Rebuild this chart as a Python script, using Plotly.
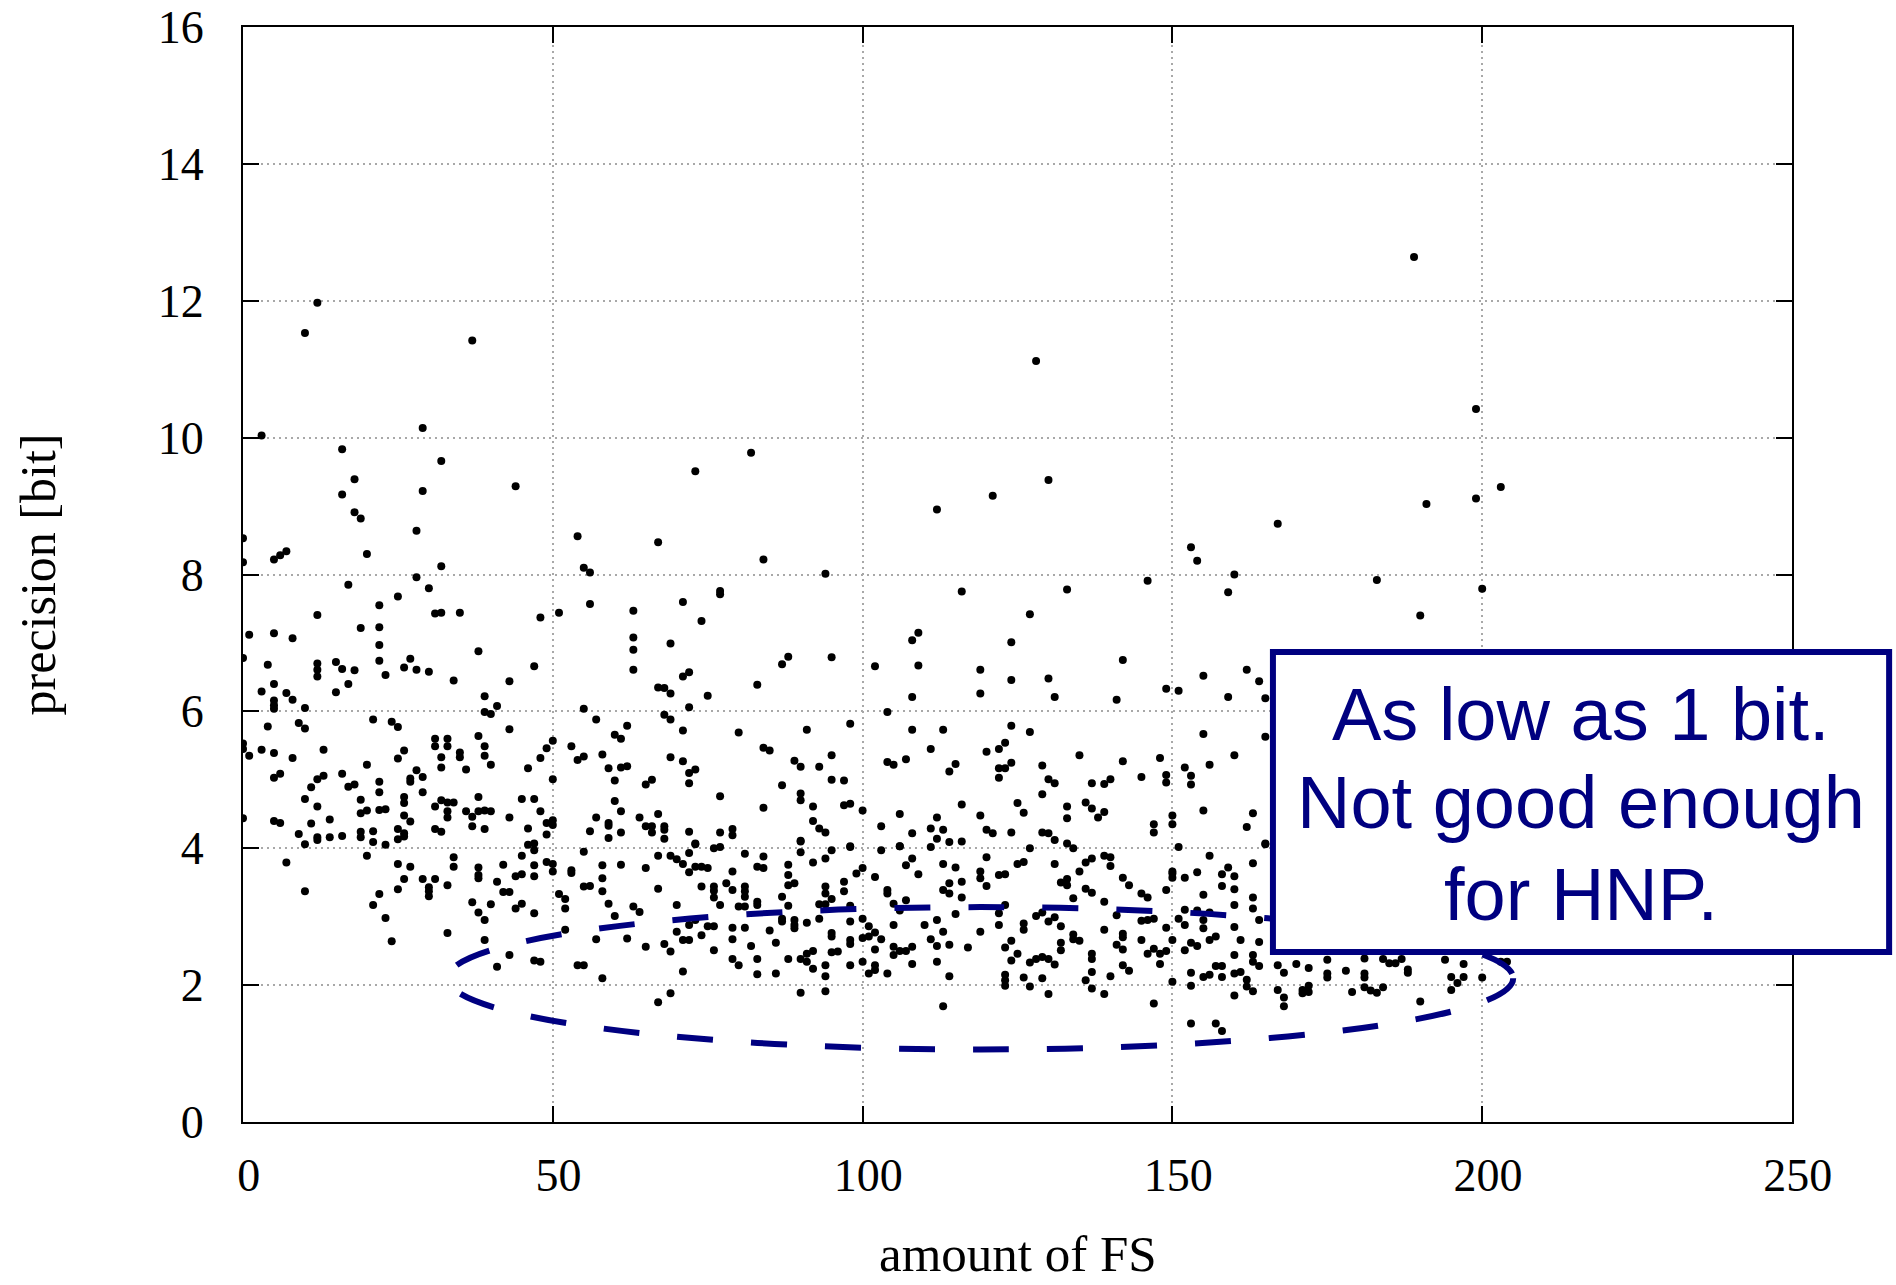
import plotly.graph_objects as go

# ---- data: (amount of FS, precision [bit]), grouped by region ----
pts_upper_left = [
    (12,11.97),(10,11.53),(37,11.42),(3,10.03),(29,10.14),(16,9.83),(32,9.66),(18,9.39),(16,9.17),(29,9.22),
    (44,9.29),(18,8.91),(19,8.82),(28,8.64),(0,8.53),(0,8.18),(5,8.22),(6,8.28),(7,8.34),(20,8.30),(32,8.12),
    (28,7.96),(17,7.85),(30,7.80),(25,7.68),(22,7.55),(22,7.23),(12,7.41),(19,7.22),(31,7.43),(32,7.44),(35,7.44),
    (54,8.56),(55,8.10),(56,8.03),(67,8.47),(73,9.51),(82,9.78),(84,8.22),(94,8.01),(63,7.47),(71,7.60),(74,7.32),
    (77,7.76),(77,7.71),(48,7.37),(51,7.44),(56,7.57),
]
pts_upper_right = [
    (189,12.64),(128,11.12),(199,10.42),(112,8.95),(121,9.15),(130,9.38),(191,9.03),(199,9.11),(203,9.28),
    (167,8.74),(153,8.40),(154,8.20),(160,8.00),(159,7.74),(146,7.91),(116,7.75),(133,7.78),(183,7.92),
    (200,7.79),(127,7.42),(190,7.40),
]
pts_mid_0_40 = [
    (1,7.12),(5,7.14),(8,7.07),(22,6.97),(0,6.78),(4,6.68),(12,6.70),(12,6.61),(12,6.51),(15,6.72),(16,6.62),
    (18,6.60),(22,6.74),(23,6.53),(26,6.64),(27,6.77),(28,6.61),(30,6.58),(34,6.45),(38,6.88),(5,6.40),(3,6.29),
    (7,6.27),(8,6.17),(5,6.16),(5,6.09),(5,6.04),(10,6.05),(15,6.28),(17,6.40),(39,6.22),(39,5.99),(40,5.96),
    (41,6.08),(4,5.78),(9,5.83),(10,5.75),(21,5.88),(24,5.85),(25,5.77),(31,5.60),(31,5.49),(33,5.60),(33,5.49),
    (38,5.64),(39,5.49),(39,5.35),(40,5.22),(35,5.40),(35,5.33),(36,5.15),(32,5.33),(32,5.18),(0,5.53),(0,5.45),
    (1,5.35),(3,5.44),(5,5.39),(8,5.32),(13,5.44),(20,5.22),(25,5.31),(26,5.43),(5,5.03),(6,5.09),(11,4.89),
    (12,5.01),(13,5.06),(16,5.09),(17,4.90),(18,4.93),(22,4.97),(22,4.82),(27,5.02),(27,4.97),(28,5.14),
    (29,5.04),(29,4.82),(10,4.72),(12,4.61),(19,4.71),(19,4.51),(20,4.55),(22,4.56),(23,4.57),(26,4.75),
    (26,4.66),(26,4.48),(27,4.39),(31,4.61),(32,4.70),(33,4.67),(34,4.67),(33,4.54),(33,4.45),(36,4.54),
    (37,4.46),(38,4.75),(38,4.54),(39,4.55),(40,4.54),(0,4.44),(5,4.40),(6,4.37),(11,4.36),(14,4.42),(9,4.21),
    (10,4.06),(12,4.16),(12,4.12),(14,4.16),(16,4.18),(19,4.24),(19,4.16),(21,4.25),(21,4.09),(23,4.05),
    (25,4.28),(25,4.13),(26,4.22),(26,4.17),(31,4.28),(32,4.24),(37,4.32),(39,4.28),
]
pts_mid_40_83 = [
    (63,7.08),(63,6.90),(63,6.61),(69,6.99),(47,6.66),(43,6.44),(71,6.51),(72,6.57),(83,6.39),(67,6.35),
    (68,6.34),(69,6.26),(75,6.23),(55,6.04),(72,6.06),(57,5.88),(68,5.95),(69,5.88),(62,5.79),(43,5.74),
    (71,5.72),(80,5.69),(60,5.66),(61,5.60),(50,5.57),(49,5.46),(48,5.32),(53,5.49),(54,5.29),(55,5.34),
    (58,5.37),(46,5.17),(59,5.17),(61,5.18),(62,5.20),(60,4.99),(50,5.01),(65,4.93),(66,5.00),(69,5.33),
    (71,5.27),(72,5.10),(73,5.15),(72,4.95),(45,4.72),(47,4.72),(48,4.54),(43,4.45),(46,4.29),(49,4.37),
    (50,4.41),(50,4.34),(49,4.20),(60,4.69),(61,4.54),(57,4.45),(59,4.37),(59,4.33),(56,4.25),(59,4.15),
    (61,4.23),(64,4.45),(65,4.32),(66,4.32),(66,4.23),(67,4.50),(68,4.32),(68,4.27),(68,4.14),(72,4.24),
    (73,4.07),(77,4.76),(77,4.23),(79,4.28),(79,4.19),(46,4.05),(47,4.07),(76,4.00),(77,4.02),
]
pts_mid_83_125 = [
    (108,7.04),(109,7.15),(124,7.01),(87,6.69),(88,6.80),(95,6.79),(102,6.66),(109,6.67),(119,6.61),(124,6.46),
    (108,6.21),(119,6.26),(104,5.99),(98,5.82),(91,5.73),(108,5.73),(113,5.73),(124,5.79),(84,5.47),(85,5.43),
    (111,5.45),(120,5.41),(122,5.45),(123,5.54),(89,5.28),(90,5.19),(95,5.36),(93,5.19),(104,5.26),(105,5.22),
    (107,5.30),(114,5.12),(115,5.23),(122,5.17),(123,5.17),(124,5.25),(122,5.03),(95,5.00),(97,4.99),(87,4.92),
    (90,4.80),(90,4.70),(84,4.59),(92,4.61),(97,4.63),(98,4.65),(100,4.55),(106,4.50),(116,4.64),(125,4.66),
    (92,4.40),(93,4.29),(94,4.23),(90,4.11),(98,4.03),(103,4.32),(108,4.22),(111,4.29),(112,4.45),(113,4.27),
    (112,4.14),(114,4.09),(116,4.10),(119,4.48),(120,4.27),(121,4.22),(124,4.23),(106,4.03),
]
pts_mid_125_165 = [
    (142,6.75),(130,6.48),(131,6.21),(141,6.17),(149,6.33),(151,6.30),(155,6.52),(162,6.61),(164,6.44),
    (159,6.21),(165,6.19),(127,5.70),(155,5.67),(165,5.63),(135,5.36),(142,5.27),(148,5.32),(160,5.36),
    (156,5.22),(129,5.21),(130,5.01),(131,4.95),(137,4.95),(139,4.94),(140,5.01),(145,5.04),(149,5.07),
    (149,4.96),(152,5.18),(153,4.93),(153,5.06),(129,4.79),(126,4.52),(133,4.61),(133,4.44),(136,4.67),
    (137,4.58),(138,4.45),(139,4.53),(147,4.35),(147,4.23),(150,4.48),(150,4.35),(155,4.55),(163,4.51),
    (162,4.31),(129,4.23),(130,4.22),(131,4.12),(133,4.07),(134,4.00),(127,4.00),(151,4.02),(165,4.07),
]
pts_low_0_40 = [
    (7,3.79),(10,3.37),(20,3.89),(25,3.77),(27,3.73),(26,3.55),(25,3.40),(22,3.33),(21,3.17),(23,2.98),
    (24,2.64),(29,3.55),(31,3.55),(30,3.43),(30,3.37),(30,3.30),(33,3.46),(34,3.87),(34,3.73),(38,3.72),
    (38,3.61),(38,3.56),(37,3.21),(38,3.06),(39,2.95),(40,3.18),(33,2.76),(39,2.66),
]
pts_low_40_83 = [
    (47,3.97),(55,3.95),(45,3.89),(42,3.76),(47,3.75),(47,3.59),(49,3.80),(50,3.77),(50,3.66),(53,3.68),
    (53,3.64),(41,3.51),(44,3.59),(45,3.62),(42,3.36),(43,3.36),(44,3.12),(45,3.19),(47,3.05),(51,3.33),
    (52,3.26),(52,3.12),(52,2.81),(55,3.44),(56,3.45),(58,3.75),(58,3.56),(58,3.37),(59,3.19),(60,3.01),
    (61,3.76),(63,3.15),(64,3.07),(65,3.71),(67,3.89),(69,3.89),(70,3.84),(71,3.77),(72,3.93),(73,4.06),
    (81,3.92),(72,3.65),(73,3.73),(74,3.73),(75,3.71),(79,3.66),(67,3.41),(70,3.17),(74,3.44),(76,3.44),
    (76,3.38),(76,3.28),(77,3.17),(78,3.49),(79,3.39),(81,3.44),(81,3.37),(81,3.29),(83,3.73),(80,3.15),
    (81,3.15),(72,2.88),(73,2.95),(75,2.86),(76,2.86),(79,2.84),(81,2.84),(70,2.78),(74,2.73),(79,2.67),
    (57,2.67),(62,2.68),(65,2.56),(68,2.60),(69,2.49),(71,2.66),(72,2.66),(76,2.51),(82,2.57),(43,2.44),
    (41,2.27),(47,2.36),(48,2.34),(54,2.29),(55,2.29),(58,2.10),(71,2.20),(79,2.38),(80,2.29),(83,2.38),
    (83,2.16),(69,1.88),(67,1.75),
]
pts_low_83_125 = [
    (90,4.10),(90,3.94),(95,3.97),(94,3.85),(98,4.02),(103,3.97),(106,4.03),(111,4.02),(84,3.88),(84,3.71),
    (92,3.79),(88,3.76),(88,3.61),(88,3.46),(89,3.49),(87,3.29),(88,3.16),(83,3.22),(83,3.17),(94,3.44),
    (94,3.34),(95,3.26),(94,3.18),(93,3.18),(97,3.51),(97,3.37),(98,3.16),(99,3.63),(100,3.71),(102,3.58),
    (104,3.39),(104,3.34),(105,3.19),(107,3.24),(106,3.09),(107,3.75),(108,3.85),(109,3.62),(113,3.77),
    (115,3.72),(114,3.49),(113,3.39),(114,3.34),(116,3.51),(116,3.28),(115,3.04),(120,3.87),(119,3.66),
    (119,3.56),(120,3.45),(122,3.61),(123,3.62),(125,3.77),(122,3.05),(123,3.17),(87,2.97),(87,2.93),
    (89,2.95),(89,2.88),(89,2.83),(85,2.80),(86,2.62),(91,2.91),(93,2.97),(95,2.76),(95,2.71),(98,2.93),
    (98,2.66),(98,2.60),(100,2.97),(101,2.86),(100,2.69),(101,2.71),(102,2.77),(103,2.67),(102,2.52),
    (105,2.88),(110,2.88),(112,2.95),(113,2.78),(111,2.67),(112,2.57),(114,2.59),(119,2.78),(122,2.88),
    (124,2.65),(123,2.55),(125,2.46),(124,2.36),(117,2.55),(86,2.17),(88,2.38),(90,2.38),(91,2.46),
    (92,2.50),(91,2.34),(92,2.24),(94,2.29),(94,2.13),(95,2.48),(96,2.49),(98,2.29),(100,2.34),(101,2.17),
    (102,2.29),(102,2.22),(104,2.17),(105,2.56),(105,2.44),(106,2.50),(107,2.50),(108,2.56),(108,2.31),
    (112,2.34),(114,2.13),(123,2.15),(123,2.07),(123,1.99),(90,1.89),(94,1.91),(113,1.69),
]
pts_low_125_165 = [
    (126,3.80),(131,3.77),(135,3.66),(136,3.79),(137,3.85),(139,3.89),(140,3.87),(140,3.74),(132,3.50),
    (133,3.55),(133,3.46),(136,3.41),(137,3.35),(134,3.27),(139,3.22),(142,3.57),(143,3.46),(145,3.34),
    (146,3.28),(149,3.39),(150,3.63),(150,3.66),(150,3.57),(152,3.57),(154,3.65),(155,3.32),(156,3.89),
    (158,3.62),(159,3.72),(160,3.59),(158,3.45),(160,3.40),(160,3.17),(163,3.78),(163,3.28),(163,3.12),
    (165,4.06),(126,2.90),(126,2.81),(128,3.01),(129,3.06),(130,2.93),(131,2.99),(132,2.86),(127,2.33),
    (128,2.38),(129,2.41),(130,2.38),(131,2.30),(132,2.62),(132,2.51),(134,2.74),(134,2.67),(135,2.65),
    (137,2.46),(137,2.38),(137,2.19),(136,2.07),(137,1.95),(139,2.81),(141,3.02),(141,2.59),(142,2.52),
    (142,2.75),(142,2.70),(142,2.29),(143,2.21),(140,2.13),(139,1.87),(145,2.94),(146,2.95),(147,2.97),
    (149,2.84),(145,2.66),(146,2.46),(147,2.53),(148,2.46),(149,2.50),(148,2.31),(150,2.66),(151,2.97),
    (152,2.88),(152,3.10),(154,3.09),(155,2.95),(155,2.83),(156,3.06),(150,2.05),(147,1.73),(126,2.11),
    (127,1.98),(129,2.10),(130,1.87),(152,2.51),(153,2.62),(154,2.57),(156,2.66),(157,2.71),(157,2.28),
    (158,2.28),(158,2.12),(155,2.12),(156,2.15),(153,2.18),(153,1.99),(160,2.85),(161,2.66),(160,2.44),
    (160,2.17),(161,2.19),(162,2.08),(162,1.98),(163,1.91),(160,1.85),(163,2.44),(163,2.34),(164,2.28),
    (164,2.95),(164,2.63),(153,1.44),(157,1.44),(158,1.33),
]
pts_low_165_205 = [
    (167,2.29),(168,2.18),(170,2.31),(172,2.25),(175,2.37),(175,2.17),(175,2.11),(178,2.21),(181,2.39),
    (181,2.17),(181,2.11),(184,2.38),(185,2.32),(186,2.32),(187,2.38),(188,2.23),(188,2.18),(194,2.37),
    (197,2.31),(197,2.12),(195,2.12),(196,2.03),(195,1.93),(200,2.11),(203,2.34),(204,2.34),(167,1.93),
    (168,1.82),(168,1.69),(171,1.93),(171,1.88),(172,1.99),(172,1.90),(179,1.90),(181,1.97),(182,1.92),
    (183,1.89),(184,1.97),(190,1.76),
]

x_ticks = [0, 50, 100, 150, 200, 250]
y_ticks = [0, 2, 4, 6, 8, 10, 12, 14, 16]
x_title = "amount of FS"
y_title = "precision [bit]"
callout_lines = ["As low as 1 bit.", "Not good enough", "for HNP."]

all_pts = (pts_upper_left + pts_upper_right + pts_mid_0_40 + pts_mid_40_83 + pts_mid_83_125
           + pts_mid_125_165 + pts_low_0_40 + pts_low_40_83 + pts_low_83_125 + pts_low_125_165
           + pts_low_165_205)
xs = [p[0] for p in all_pts]
ys = [p[1] for p in all_pts]

NAVY = "#000080"
SERIF = "Liberation Serif"

fig = go.Figure()
fig.add_trace(go.Scatter(x=xs, y=ys, mode="markers",
                         marker=dict(color="black", size=8, line=dict(width=0)),
                         showlegend=False, hoverinfo="skip"))

axis_common = dict(showline=True, linecolor="black", linewidth=2, mirror="ticks",
                   ticks="inside", ticklen=16, tickwidth=2, tickcolor="black",
                   showgrid=True, gridcolor="#a8a8a8", gridwidth=1.5, griddash="2px,4px",
                   zeroline=False, automargin=False,
                   tickfont=dict(family=SERIF, size=46, color="black"))

fig.update_xaxes(range=[0, 250], tickvals=x_ticks,
                 ticktext=["\u2005" + str(v) for v in x_ticks],
                 ticklabelstandoff=12,
                 **axis_common)
fig.update_yaxes(range=[0, 16], tickvals=y_ticks, ticktext=[str(v) for v in y_ticks],
                 ticklabelstandoff=28,
                 title=dict(text=y_title, font=dict(family=SERIF, size=50, color="black"), standoff=86),
                 **axis_common)

# x axis title placed as an annotation so it can sit low like the reference
fig.add_annotation(text=x_title, xref="paper", yref="paper", x=0.5, y=-0.1470,
                   xanchor="center", yanchor="bottom", showarrow=False, borderpad=0,
                   font=dict(family=SERIF, size=51, color="black"))

# dashed ellipse around the low-precision cluster
fig.add_shape(type="circle", xref="x", yref="y", x0=33.0, x1=205.0, y0=1.06, y1=3.14,
              line=dict(color=NAVY, width=6, dash="36px,38px"), layer="above")

# callout box (paper coordinates)
fig.add_shape(type="rect", xref="paper", yref="paper", x0=0.6649, x1=1.0627, y0=0.1553, y1=0.4293,
              line=dict(color=NAVY, width=6), fillcolor="white", layer="above")

line_y = [0.3726, 0.2922, 0.2082]
for txt, yy in zip(callout_lines, line_y):
    fig.add_annotation(text=txt, xref="paper", yref="paper", x=0.8638, y=yy,
                       xanchor="center", yanchor="middle", showarrow=False,
                       font=dict(family="Liberation Sans", size=74, color=NAVY))

fig.update_layout(width=1896, height=1285,
                  margin=dict(l=243, r=104, t=27, b=163),
                  plot_bgcolor="white", paper_bgcolor="white",
                  font=dict(family=SERIF, color="black"))

fig.write_html("out.html")
